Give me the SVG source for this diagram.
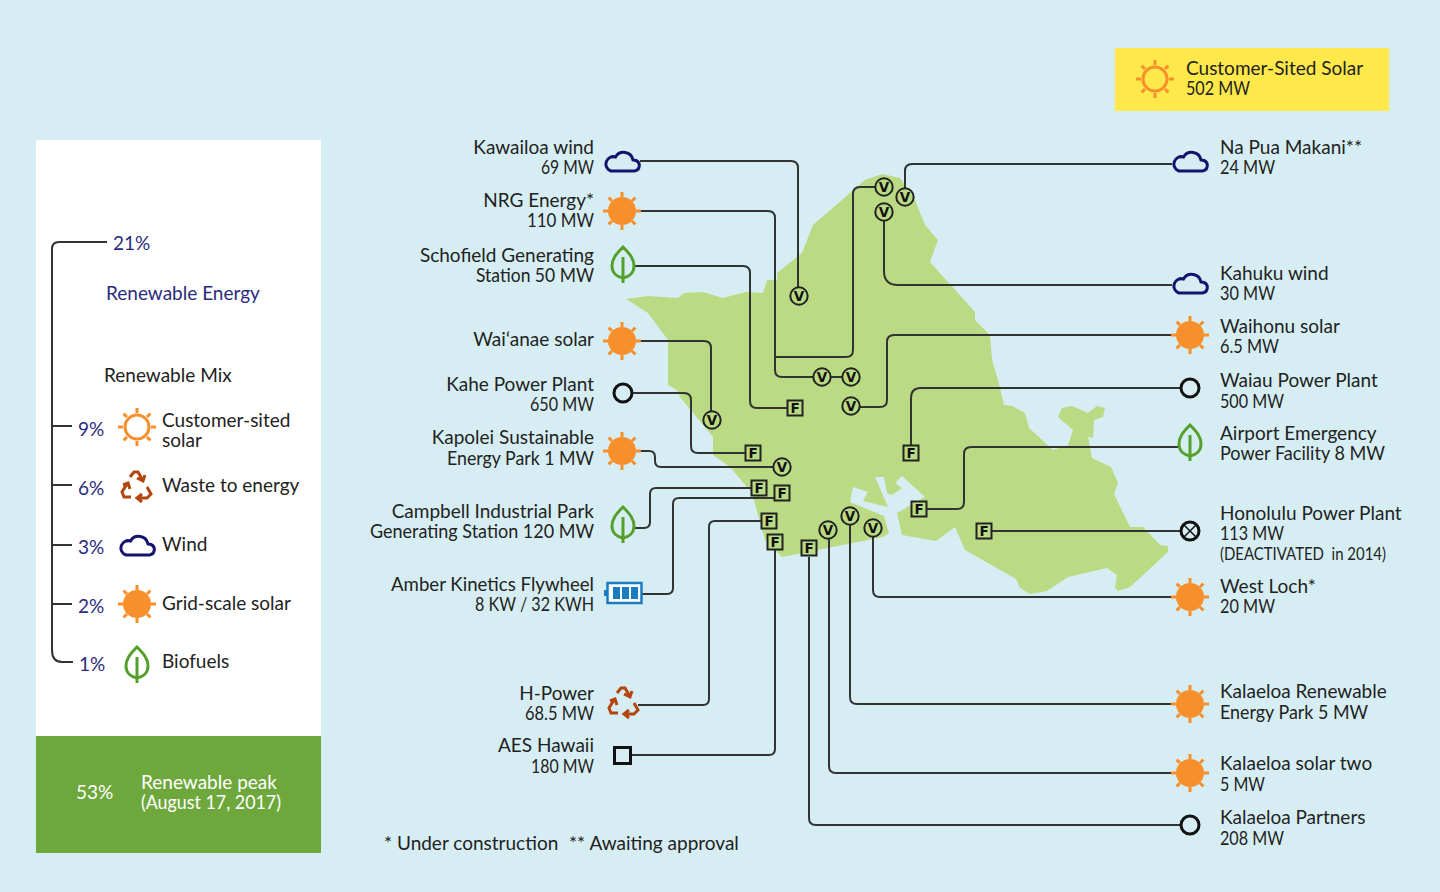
<svg xmlns="http://www.w3.org/2000/svg" width="1440" height="892" viewBox="0 0 1440 892">
<style>
text{font-family:"Lato","Liberation Sans",sans-serif;font-size:19px;fill:#222}
.e{text-anchor:end}
.n{fill:#2b2b7c}
.w{fill:#fff}
.s{font-size:16.5px;white-space:pre}
.c{fill:none;stroke:#333;stroke-width:2}
.sun{fill:#f7902c;stroke:#f7902c;stroke-width:3}
.sunO{fill:none;stroke:#f7902c;stroke-width:3}
.cl{fill:none;stroke:#14146e;stroke-width:3}
.lf{fill:none;stroke:#55a02d;stroke-width:3}
.rc{fill:none;stroke:#b4450f;stroke-width:3}
.ho{fill:none;stroke:#111;stroke-width:3}
.xm{fill:none;stroke:#111;stroke-width:1.5}
.mk{fill:#bada84;stroke:#222;stroke-width:2}
.mt{font-family:"DejaVu Sans",sans-serif;font-size:13.5px;font-weight:700;text-anchor:middle;fill:#111}
</style>
<defs>
<g id="rays"><path d="M0-19V-14M0 19V14M-19 0H-14M19 0H14M-13.4-13.4L-10-10M13.4-13.4L10-10M-13.4 13.4L-10 10M13.4 13.4L10 10"/></g>
<g id="sunF" class="sun"><circle r="12.5"/><use href="#rays"/></g>
<g id="sunL" class="sunO"><circle r="12"/><use href="#rays"/></g>
<path id="cloud" class="cl" d="M-11 11H12.5A5.5 5.5 0 0 0 14 0.5L11 0A9.5 9.5 0 0 0-6.5-3A7 7 0 0 0-11 11Z"/>
<g id="leaf" class="lf"><path d="M0-18C-7-11-11-6-11 1C-11 8-6 12 0 13C6 12 11 8 11 1C11-6 7-11 0-18Z"/><path d="M0-8V18"/></g>
<g id="rec" class="rc"><path d="M-6-9L-2-14H2L6-7M1-8L7-5L9-11"/><path d="M-9-2L-14 6L-12 11H-5M-13-1L-8-3L-6 3"/><path d="M1 12H11L15 8L11 1M6 8L1 12L6 16"/></g>
<g id="V"><circle class="mk" r="8.7"/><text class="mt" y="5">V</text></g>
<g id="F"><rect class="mk" x="-7.5" y="-7.5" width="15" height="15"/><text class="mt" y="5">F</text></g>
</defs>
<rect width="1440" height="892" fill="#d6eef3"/>
<g id="island"><path fill="#bada84" d="M626 299L648 296L678 298L684 293L703 292L723 298L746 292L763 293L767 280L777 280L777 273L802 253L813 225L865 180L882 174L900 178L906 187L915 200L925 225L938 240L930 262L975 312L975 320L990 335L992 360L998 380L1004 405L1012 406L1025 413L1029 428L1053 450L1068 445L1073 430L1058 417L1062 408L1072 406L1088 413L1097 406L1105 408L1103 417L1094 420L1093 438L1088 437L1092 458L1111 467L1118 483L1114 494L1130 527L1143 527L1160 545L1168 546L1168 552L1130 587L1118 591L1115 588L1117 575L1107 568L1068 577L1047 591L1030 594L1020 588L1016 579L965 550L955 527L936 541L902 535L897 513L925 497L902 476L895 483L902 488L892 495L887 493L884 477L875 477L888 507L863 501L868 492L853 487L850 502L884 516L889 533L883 537L782 557L765 540L752 493L730 467L713 455L713 437L680 397L677 390L668 385L668 340L648 313Z"/></g>
<g id="legend-panel"><rect x="36" y="140" width="285" height="596" fill="#fff"/><rect x="36" y="736" width="285" height="117" fill="#6ea83c"/>
<text class="w" x="76" y="799">53%</text><text class="w" x="141" y="789">Renewable peak</text><text class="w" x="141" y="809" textLength="140" lengthAdjust="spacingAndGlyphs">(August 17, 2017)</text></g>
<g id="connectors" class="c">
<path class="c" d="M52 650V249Q52 242 59 242H107M52 650Q52 662 62 662H73M52 426H72M52 485H72M52 545H72M52 604H72"/>
<path class="c" d="M640 161H791Q798 161 798 168V287"/>
<path class="c" d="M638 211H768Q775 211 775 218V370Q775 377 782 377H860"/>
<path class="c" d="M775 357H846Q853 357 853 350V194Q853 187 860 187H875"/>
<path class="c" d="M634 266H743Q750 266 750 273V401Q750 408 757 408H787"/>
<path class="c" d="M640 341H704Q711 341 711 348V412"/>
<path class="c" d="M633 393H684Q691 393 691 400V446Q691 453 698 453H745"/>
<path class="c" d="M638 451H649Q655 451 655 457V461Q655 467 661 467H773"/>
<path class="c" d="M635 528H644Q650 528 650 522V494Q650 488 656 488H751"/>
<path class="c" d="M642 594H667Q673 594 673 588V504Q673 498 679 498H774"/>
<path class="c" d="M638 705H703Q709 705 709 699V527Q709 521 715 521H761"/>
<path class="c" d="M632 755H769Q775 755 775 749V550"/>
<path class="c" d="M1172 164H912Q905 164 905 171V189"/>
<path class="c" d="M1172 285H898Q884 285 884 271V220"/>
<path class="c" d="M1172 335H894Q887 335 887 342V400Q887 407 880 407H860"/>
<path class="c" d="M1180 388H921Q911 388 911 398V445"/>
<path class="c" d="M1178 447H971Q964 447 964 454V502Q964 509 957 509H927"/>
<path class="c" d="M1180 531H992"/>
<path class="c" d="M1172 597H880Q873 597 873 590V537"/>
<path class="c" d="M1172 704H857Q850 704 850 697V525"/>
<path class="c" d="M1172 773H836Q829 773 829 766V539"/>
<path class="c" d="M1180 825H816Q809 825 809 818V557"/>
</g>
<g id="markers">
<use href="#V" x="799" y="296"/><use href="#V" x="822" y="377"/><use href="#V" x="851" y="377"/><use href="#V" x="884" y="187"/><use href="#V" x="905" y="197"/><use href="#V" x="884" y="212"/><use href="#V" x="851" y="406"/><use href="#V" x="712" y="420"/><use href="#V" x="782" y="467"/><use href="#V" x="828" y="530"/><use href="#V" x="850" y="516"/><use href="#V" x="873" y="528"/>
<use href="#F" x="795" y="408"/><use href="#F" x="753" y="453"/><use href="#F" x="911" y="453"/><use href="#F" x="759" y="488"/><use href="#F" x="782" y="493"/><use href="#F" x="769" y="521"/><use href="#F" x="775" y="542"/><use href="#F" x="809" y="548"/><use href="#F" x="919" y="509"/><use href="#F" x="984" y="531"/>
</g>
<g id="legend">
<text class="n" x="113" y="250">21%</text>
<text class="n" x="106" y="300">Renewable Energy</text>
<text x="104" y="382">Renewable Mix</text>
<g id="lg-customer"><text class="n" x="78" y="436">9%</text><use href="#sunL" x="137" y="427"/><text x="162" y="427">Customer-sited</text><text x="162" y="447">solar</text></g>
<g id="lg-waste"><text class="n" x="78" y="495">6%</text><use href="#rec" x="136" y="486"/><text x="162" y="492">Waste to energy</text></g>
<g id="lg-wind"><text class="n" x="78" y="554">3%</text><use href="#cloud" x="137" y="544"/><text x="162" y="551">Wind</text></g>
<g id="lg-grid"><text class="n" x="78" y="613">2%</text><use href="#sunF" x="137" y="604"/><text x="162" y="610">Grid-scale solar</text></g>
<g id="lg-bio"><text class="n" x="79" y="671">1%</text><use href="#leaf" x="137" y="665"/><text x="162" y="668">Biofuels</text></g>
</g>
<g id="customer-solar"><rect x="1115" y="48" width="274" height="63" fill="#ffe94a"/><use href="#sunL" x="1155" y="79"/><text x="1186" y="75">Customer-Sited Solar</text><text x="1186" y="95" textLength="64" lengthAdjust="spacingAndGlyphs">502 MW</text></g>
<g id="kawailoa"><use href="#cloud" x="622" y="160"/><text class="e" x="594" y="154">Kawailoa wind</text><text class="e" x="594" y="174" textLength="53" lengthAdjust="spacingAndGlyphs">69 MW</text></g>
<g id="nrg"><use href="#sunF" x="622" y="211"/><text class="e" x="594" y="207">NRG Energy*</text><text class="e" x="594" y="227" textLength="67" lengthAdjust="spacingAndGlyphs">110 MW</text></g>
<g id="schofield"><use href="#leaf" x="623" y="265"/><text class="e" x="594" y="262">Schofield Generating</text><text class="e" x="594" y="282" textLength="118" lengthAdjust="spacingAndGlyphs">Station 50 MW</text></g>
<g id="waianae"><use href="#sunF" x="622" y="341"/><text class="e" x="594" y="346">Waiʻanae solar</text></g>
<g id="kahe"><circle class="ho" cx="623" cy="393" r="9"/><text class="e" x="594" y="391">Kahe Power Plant</text><text class="e" x="594" y="411" textLength="64" lengthAdjust="spacingAndGlyphs">650 MW</text></g>
<g id="kapolei"><use href="#sunF" x="622" y="451"/><text class="e" x="594" y="444">Kapolei Sustainable</text><text class="e" x="594" y="465" textLength="147" lengthAdjust="spacingAndGlyphs">Energy Park 1 MW</text></g>
<g id="campbell"><use href="#leaf" x="623" y="525"/><text class="e" x="594" y="518">Campbell Industrial Park</text><text class="e" x="594" y="538" textLength="224" lengthAdjust="spacingAndGlyphs">Generating Station 120 MW</text></g>
<g id="amber"><rect x="607.5" y="583" width="34" height="20" fill="#fff" stroke="#1a7cc0" stroke-width="2.5"/><path fill="#1a7cc0" d="M604 590h3v6h-3zM613 587h7v12h-7zM622 587h7v12h-7zM631 587h7v12h-7z"/><text class="e" x="594" y="591" textLength="203" lengthAdjust="spacingAndGlyphs">Amber Kinetics Flywheel</text><text class="e" x="594" y="611" textLength="119" lengthAdjust="spacingAndGlyphs">8 KW / 32 KWH</text></g>
<g id="hpower"><use href="#rec" x="623" y="702"/><text class="e" x="594" y="700">H-Power</text><text class="e" x="594" y="720" textLength="69" lengthAdjust="spacingAndGlyphs">68.5 MW</text></g>
<g id="aes"><rect class="ho" x="614.5" y="747.5" width="16" height="16"/><text class="e" x="594" y="752">AES Hawaii</text><text class="e" x="594" y="773" textLength="63" lengthAdjust="spacingAndGlyphs">180 MW</text></g>
<g id="napua"><use href="#cloud" x="1190" y="160"/><text x="1220" y="154">Na Pua Makani**</text><text x="1220" y="174" textLength="55" lengthAdjust="spacingAndGlyphs">24 MW</text></g>
<g id="kahuku"><use href="#cloud" x="1190" y="282"/><text x="1220" y="280">Kahuku wind</text><text x="1220" y="300" textLength="55" lengthAdjust="spacingAndGlyphs">30 MW</text></g>
<g id="waihonu"><use href="#sunF" x="1190" y="335"/><text x="1220" y="333">Waihonu solar</text><text x="1220" y="353" textLength="59" lengthAdjust="spacingAndGlyphs">6.5 MW</text></g>
<g id="waiau"><circle class="ho" cx="1190" cy="388" r="9"/><text x="1220" y="387">Waiau Power Plant</text><text x="1220" y="408" textLength="64" lengthAdjust="spacingAndGlyphs">500 MW</text></g>
<g id="airport"><use href="#leaf" x="1190" y="443"/><text x="1220" y="440">Airport Emergency</text><text x="1220" y="460" textLength="165" lengthAdjust="spacingAndGlyphs">Power Facility 8 MW</text></g>
<g id="honolulu"><circle class="ho" cx="1190" cy="531" r="9"/><path class="xm" d="M1184 525L1196 537M1196 525L1184 537"/><text x="1220" y="520">Honolulu Power Plant</text><text x="1220" y="540" textLength="64" lengthAdjust="spacingAndGlyphs">113 MW</text><text class="s" x="1220" y="560" textLength="166" lengthAdjust="spacingAndGlyphs">(DEACTIVATED  in 2014)</text></g>
<g id="westloch"><use href="#sunF" x="1190" y="597"/><text x="1220" y="593">West Loch*</text><text x="1220" y="613" textLength="55" lengthAdjust="spacingAndGlyphs">20 MW</text></g>
<g id="kalaeloa-re"><use href="#sunF" x="1190" y="704"/><text x="1220" y="698">Kalaeloa Renewable</text><text x="1220" y="719" textLength="148" lengthAdjust="spacingAndGlyphs">Energy Park 5 MW</text></g>
<g id="kalaeloa-two"><use href="#sunF" x="1190" y="773"/><text x="1220" y="770">Kalaeloa solar two</text><text x="1220" y="791" textLength="45" lengthAdjust="spacingAndGlyphs">5 MW</text></g>
<g id="kalaeloa-p"><circle class="ho" cx="1190" cy="825" r="9"/><text x="1220" y="824">Kalaeloa Partners</text><text x="1220" y="845" textLength="64" lengthAdjust="spacingAndGlyphs">208 MW</text></g>
<g id="footnotes"><text x="384" y="850">* Under construction</text><text x="569" y="850">** Awaiting approval</text></g>
</svg>
